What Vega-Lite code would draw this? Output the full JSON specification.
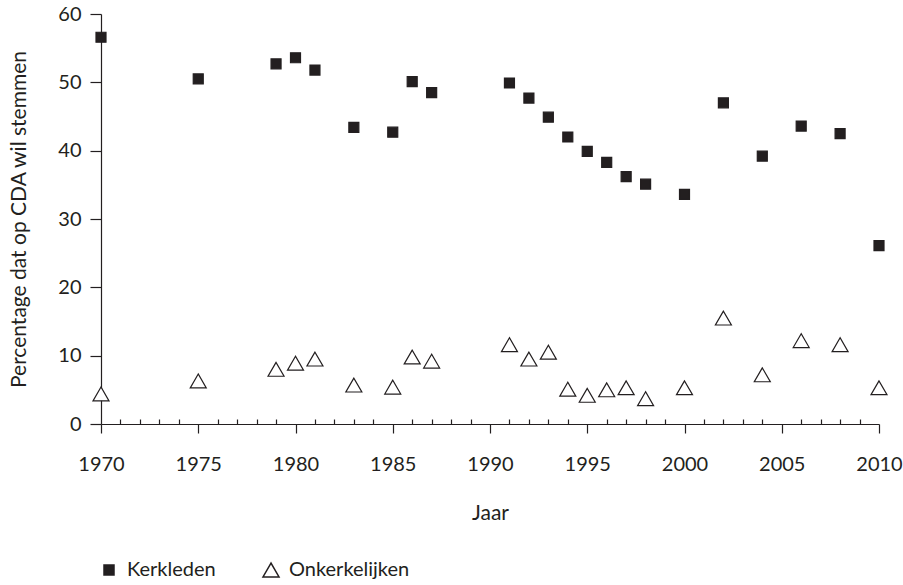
{
  "$schema": "https://vega.github.io/schema/vega-lite/v6.json",
  "width": 778,
  "height": 410,
  "autosize": {"type": "none"},
  "padding": {"left": 101, "top": 14, "right": 24, "bottom": 161},
  "background": "white",
  "config": {
    "view": {"stroke": null},
    "font": "Lato",
    "axis": {"grid": false, "domainColor": "#231f20", "tickColor": "#231f20", "labelColor": "#231f20", "titleColor": "#231f20", "labelFont": "Lato", "titleFont": "Lato", "labelFontSize": 20, "titleFontSize": 21, "titleFontWeight": "normal", "domainWidth": 1.2, "tickWidth": 1.2},
    "legend": {"labelFont": "Lato", "labelFontSize": 20, "labelColor": "#231f20"}
  },
  "data": {
    "values": [
      {"year": 1970, "group": "Kerkleden", "value": 56.6},
      {"year": 1975, "group": "Kerkleden", "value": 50.5},
      {"year": 1979, "group": "Kerkleden", "value": 52.7},
      {"year": 1980, "group": "Kerkleden", "value": 53.6},
      {"year": 1981, "group": "Kerkleden", "value": 51.8},
      {"year": 1983, "group": "Kerkleden", "value": 43.4},
      {"year": 1985, "group": "Kerkleden", "value": 42.7},
      {"year": 1986, "group": "Kerkleden", "value": 50.1},
      {"year": 1987, "group": "Kerkleden", "value": 48.5},
      {"year": 1991, "group": "Kerkleden", "value": 49.9},
      {"year": 1992, "group": "Kerkleden", "value": 47.7},
      {"year": 1993, "group": "Kerkleden", "value": 44.9},
      {"year": 1994, "group": "Kerkleden", "value": 42.0},
      {"year": 1995, "group": "Kerkleden", "value": 39.9},
      {"year": 1996, "group": "Kerkleden", "value": 38.3},
      {"year": 1997, "group": "Kerkleden", "value": 36.2},
      {"year": 1998, "group": "Kerkleden", "value": 35.1},
      {"year": 2000, "group": "Kerkleden", "value": 33.6},
      {"year": 2002, "group": "Kerkleden", "value": 47.0},
      {"year": 2004, "group": "Kerkleden", "value": 39.2},
      {"year": 2006, "group": "Kerkleden", "value": 43.6},
      {"year": 2008, "group": "Kerkleden", "value": 42.5},
      {"year": 2010, "group": "Kerkleden", "value": 26.1},
      {"year": 1970, "group": "Onkerkelijken", "value": 4.4},
      {"year": 1975, "group": "Onkerkelijken", "value": 6.3},
      {"year": 1979, "group": "Onkerkelijken", "value": 8.0},
      {"year": 1980, "group": "Onkerkelijken", "value": 8.9},
      {"year": 1981, "group": "Onkerkelijken", "value": 9.5},
      {"year": 1983, "group": "Onkerkelijken", "value": 5.7},
      {"year": 1985, "group": "Onkerkelijken", "value": 5.4},
      {"year": 1986, "group": "Onkerkelijken", "value": 9.8},
      {"year": 1987, "group": "Onkerkelijken", "value": 9.2},
      {"year": 1991, "group": "Onkerkelijken", "value": 11.6},
      {"year": 1992, "group": "Onkerkelijken", "value": 9.5},
      {"year": 1993, "group": "Onkerkelijken", "value": 10.5},
      {"year": 1994, "group": "Onkerkelijken", "value": 5.1},
      {"year": 1995, "group": "Onkerkelijken", "value": 4.2},
      {"year": 1996, "group": "Onkerkelijken", "value": 5.0},
      {"year": 1997, "group": "Onkerkelijken", "value": 5.3},
      {"year": 1998, "group": "Onkerkelijken", "value": 3.7},
      {"year": 2000, "group": "Onkerkelijken", "value": 5.3},
      {"year": 2002, "group": "Onkerkelijken", "value": 15.5},
      {"year": 2004, "group": "Onkerkelijken", "value": 7.2},
      {"year": 2006, "group": "Onkerkelijken", "value": 12.2},
      {"year": 2008, "group": "Onkerkelijken", "value": 11.6},
      {"year": 2010, "group": "Onkerkelijken", "value": 5.3}
    ]
  },
  "mark": {"type": "point", "filled": true, "stroke": "#231f20", "strokeWidth": 1.2, "opacity": 1},
  "encoding": {
    "x": {
      "field": "year", "type": "quantitative",
      "scale": {"domain": [1970, 2010], "nice": false, "zero": false},
      "axis": {
        "title": "Jaar",
        "values": [1970,1971,1972,1973,1974,1975,1976,1977,1978,1979,1980,1981,1982,1983,1984,1985,1986,1987,1988,1989,1990,1991,1992,1993,1994,1995,1996,1997,1998,1999,2000,2001,2002,2003,2004,2005,2006,2007,2008,2009,2010],
        "labelExpr": "datum.value % 5 === 0 ? datum.value : ''",
        "format": "d",
        "tickSize": {"condition": {"test": "datum.value % 5 === 0", "value": 9}, "value": -5},
        "labelFlush": false,
        "labelOverlap": false,
        "labelPadding": 21,
        "titlePadding": 28
      }
    },
    "y": {
      "field": "value", "type": "quantitative",
      "scale": {"domain": [0, 60], "nice": false},
      "axis": {
        "title": "Percentage dat op CDA wil stemmen",
        "values": [0, 10, 20, 30, 40, 50, 60],
        "tickSize": 11,
        "labelPadding": 9,
        "titlePadding": 28
      }
    },
    "shape": {
      "field": "group", "type": "nominal",
      "scale": {"domain": ["Kerkleden", "Onkerkelijken"], "range": ["square", "triangle-up"]},
      "legend": {"title": null, "orient": "none", "direction": "horizontal", "legendX": -2, "legendY": 546, "labelOffset": 8, "columnPadding": 44}
    },
    "fill": {
      "field": "group", "type": "nominal",
      "scale": {"domain": ["Kerkleden", "Onkerkelijken"], "range": ["#231f20", "white"]}
    },
    "size": {
      "field": "group", "type": "nominal",
      "scale": {"domain": ["Kerkleden", "Onkerkelijken"], "range": [100, 256]}
    }
  }
}
